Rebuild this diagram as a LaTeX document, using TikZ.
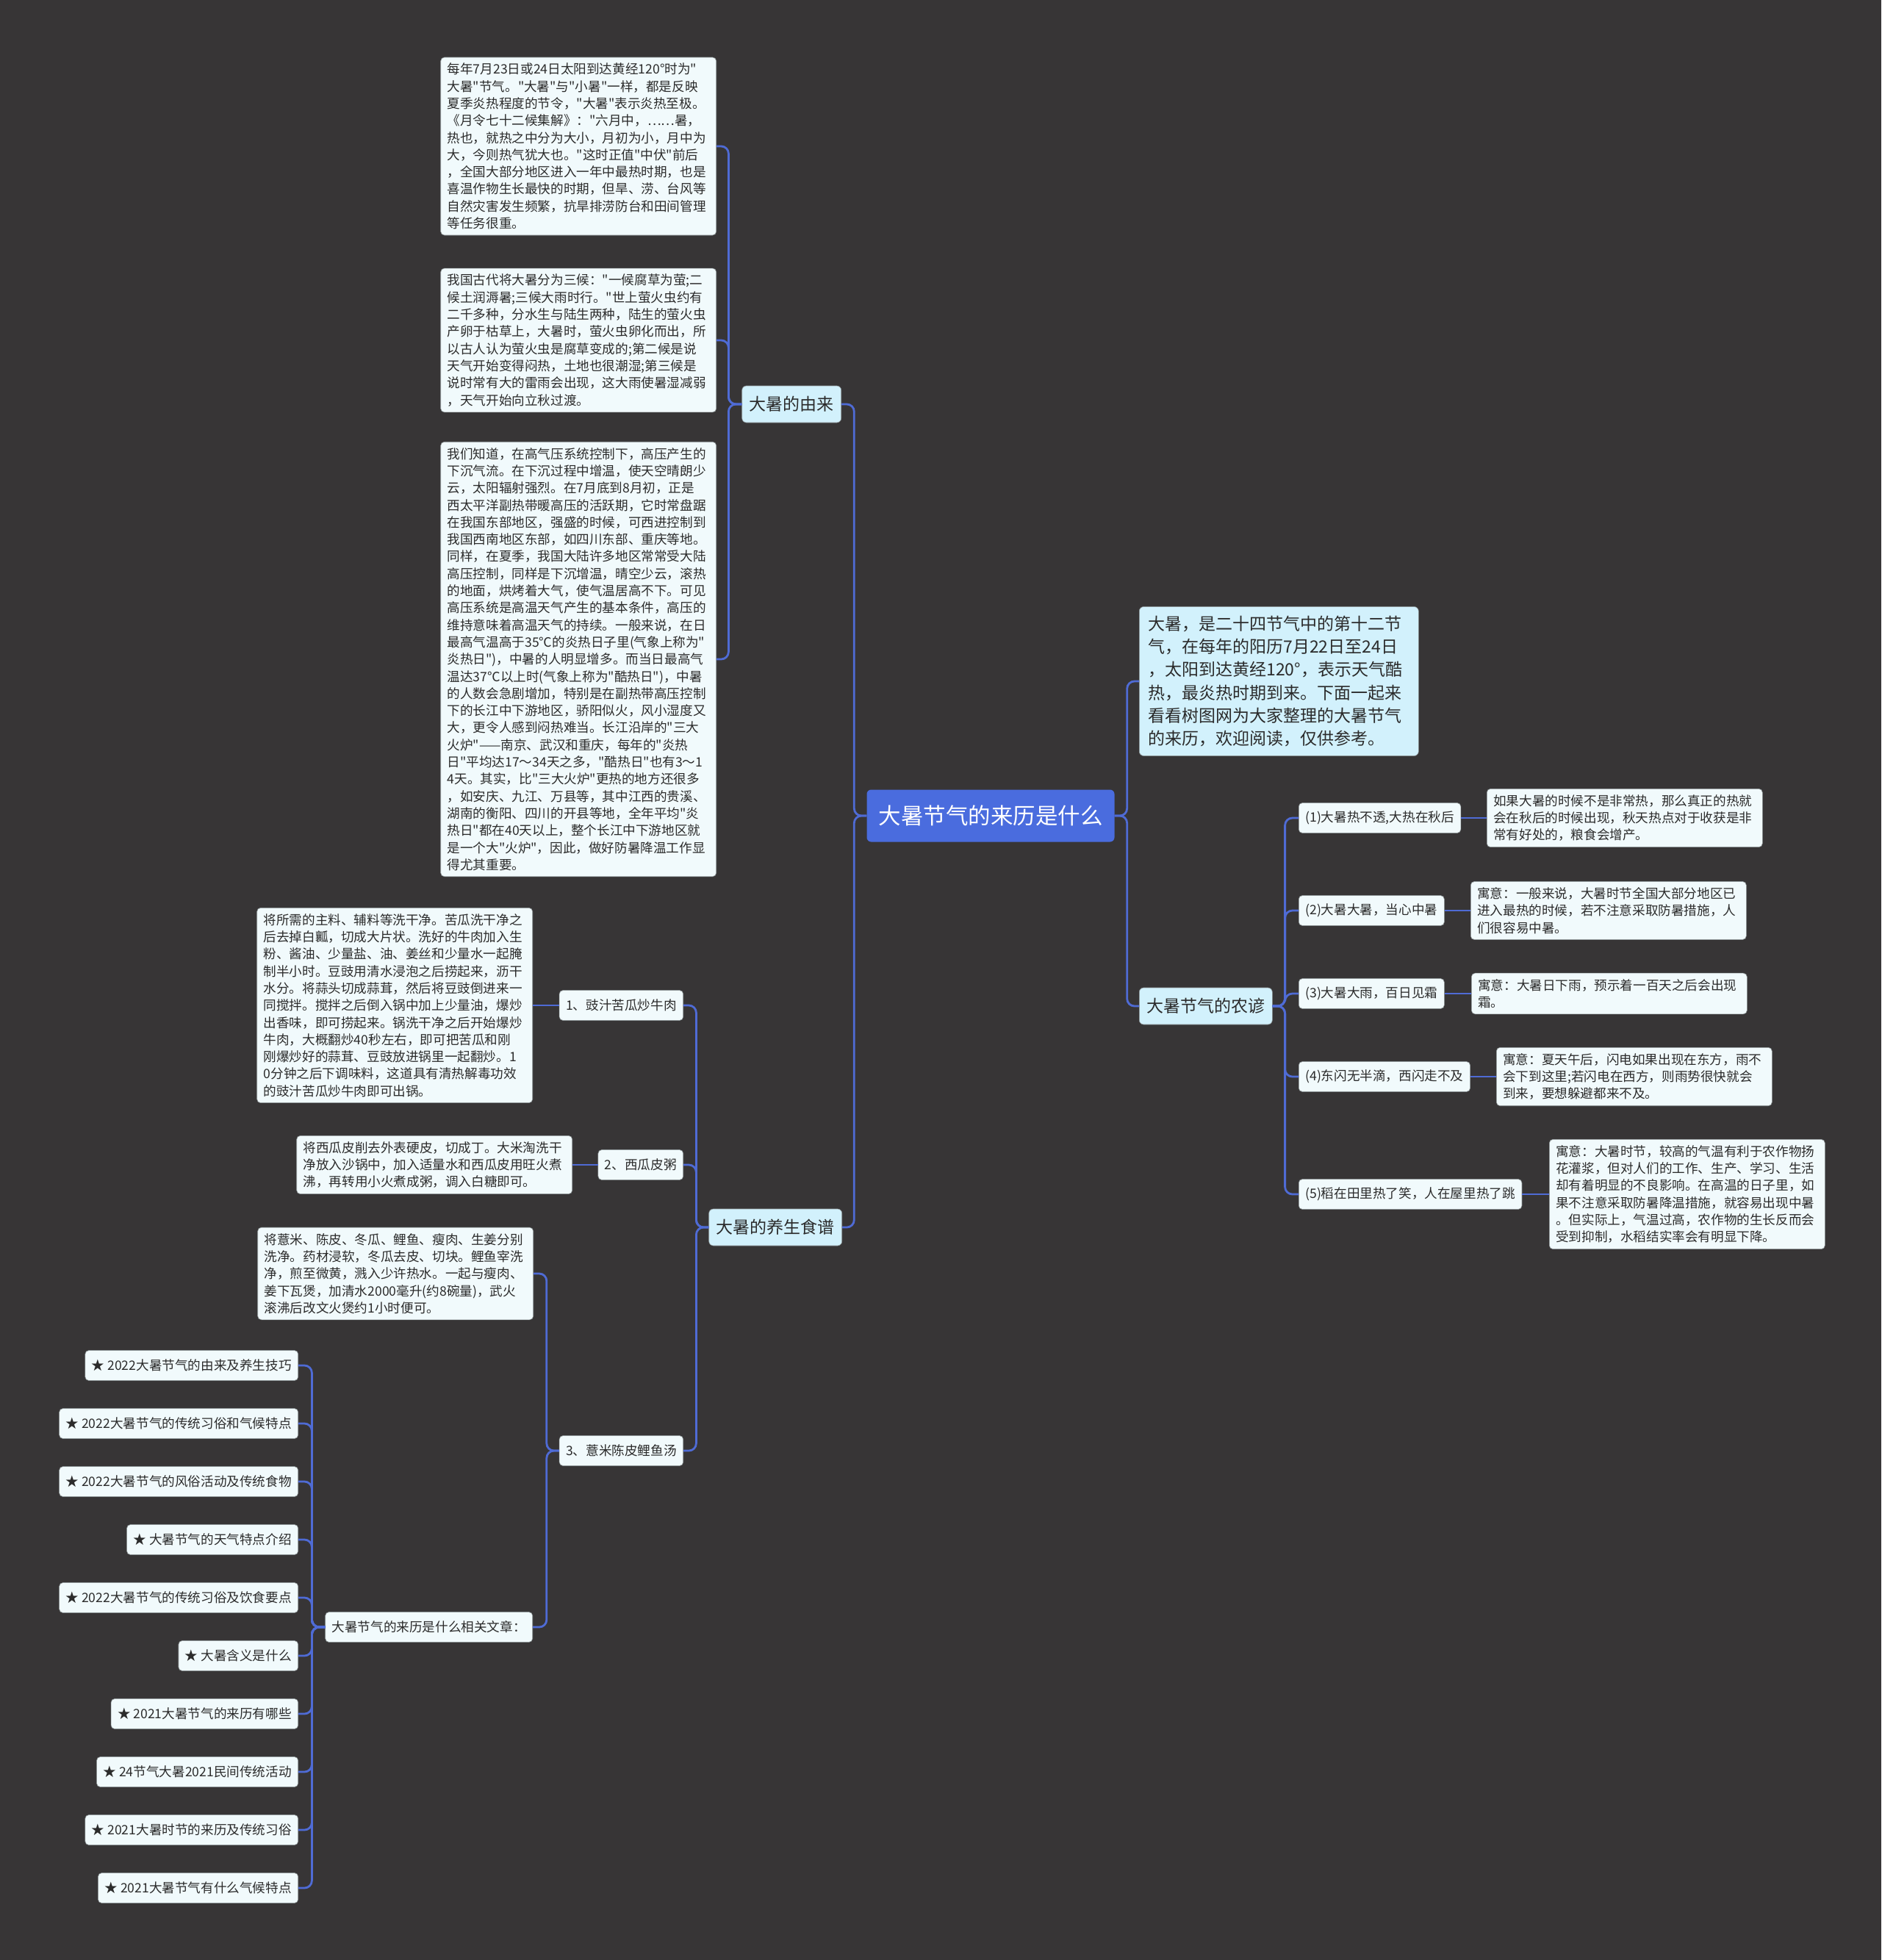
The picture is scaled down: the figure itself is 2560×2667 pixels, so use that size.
\documentclass[tikz,border=0pt]{standalone}
\usepackage{fontspec}
\setmainfont{Noto Sans CJK SC}[Ligatures=TeXOff]
\definecolor{bgc}{HTML}{373536}
\definecolor{connc}{HTML}{4F6BD5}
\definecolor{rootc}{HTML}{4A6CDE}
\definecolor{branchc}{HTML}{D2F1FC}
\definecolor{leafc}{HTML}{F1FAFC}
\definecolor{edgec}{HTML}{8E9698}
\definecolor{txtc}{HTML}{2B2B2B}
\newcommand\myfs[2]{\fontsize{#1}{#2}\selectfont}
\tikzset{
 conn/.style={draw=connc, line width=2.8pt, rounded corners=10pt},
 rootnode/.style={fill=rootc, text=white, rounded corners=6pt, minimum width=337pt, minimum height=71pt, font=\myfs{30.5}{36}},
 branch/.style={fill=branchc, draw=edgec, line width=0.6pt, rounded corners=6pt, minimum height=50pt, inner xsep=10pt, font=\myfs{23}{30}, text=txtc},
 leaf/.style={fill=leafc, draw=edgec, line width=0.6pt, rounded corners=5pt, minimum height=41pt, inner xsep=9pt, font=\myfs{17.6}{23.3}, text=txtc},
 tbox/.style={leaf, minimum height=0pt, text width=357pt, align=left, inner ysep=8pt},
 introbox/.style={branch, minimum height=0pt, text width=356pt, inner xsep=12pt, inner ysep=12pt, align=left, font=\myfs{23}{31.4}},
}
\begin{document}
\begin{tikzpicture}[x=1pt,y=-1pt]
\fill[bgc] (0,0) rectangle (2560,2667);
\useasboundingbox (0,0) rectangle (2560,2667);

% root and main branches
\node[rootnode] (root) at (1348,1110) {大暑节气的来历是什么};
\node[branch, anchor=east] (yl) at (1145,550) {大暑的由来};
\node[branch, anchor=east] (ys) at (1146,1670) {大暑的养生食谱};
\node[introbox, anchor=west] (intro) at (1550,927) {大暑，是二十四节气中的第十二节\\气，在每年的阳历7月22日至24日\\，太阳到达黄经120°，表示天气酷\\热，最炎热时期到来。下面一起来\\看看树图网为大家整理的大暑节气\\的来历，欢迎阅读，仅供参考。};
\node[branch, anchor=west] (ny) at (1550,1369) {大暑节气的农谚};

% origin texts
\node[tbox, anchor=east] (a1) at (975,199) {每年7月23日或24日太阳到达黄经120°时为"\\大暑"节气。"大暑"与"小暑"一样，都是反映\\夏季炎热程度的节令，"大暑"表示炎热至极。\\《月令七十二候集解》："六月中，……暑，\\热也，就热之中分为大小，月初为小，月中为\\大，今则热气犹大也。"这时正值"中伏"前后\\，全国大部分地区进入一年中最热时期，也是\\喜温作物生长最快的时期，但旱、涝、台风等\\自然灾害发生频繁，抗旱排涝防台和田间管理\\等任务很重。};
\node[tbox, anchor=east] (a2) at (975,463) {我国古代将大暑分为三候："一候腐草为萤;二\\候土润溽暑;三候大雨时行。"世上萤火虫约有\\二千多种，分水生与陆生两种，陆生的萤火虫\\产卵于枯草上，大暑时，萤火虫卵化而出，所\\以古人认为萤火虫是腐草变成的;第二候是说\\天气开始变得闷热，土地也很潮湿;第三候是\\说时常有大的雷雨会出现，这大雨使暑湿减弱\\，天气开始向立秋过渡。};
\node[tbox, anchor=east] (a3) at (975,897) {我们知道，在高气压系统控制下，高压产生的\\下沉气流。在下沉过程中增温，使天空晴朗少\\云，太阳辐射强烈。在7月底到8月初，正是\\西太平洋副热带暖高压的活跃期，它时常盘踞\\在我国东部地区，强盛的时候，可西进控制到\\我国西南地区东部，如四川东部、重庆等地。\\同样，在夏季，我国大陆许多地区常常受大陆\\高压控制，同样是下沉增温，晴空少云，滚热\\的地面，烘烤着大气，使气温居高不下。可见\\高压系统是高温天气产生的基本条件，高压的\\维持意味着高温天气的持续。一般来说，在日\\最高气温高于35℃的炎热日子里(气象上称为"\\炎热日")，中暑的人明显增多。而当日最高气\\温达37℃以上时(气象上称为"酷热日")，中暑\\的人数会急剧增加，特别是在副热带高压控制\\下的长江中下游地区，骄阳似火，风小湿度又\\大，更令人感到闷热难当。长江沿岸的"三大\\火炉"——南京、武汉和重庆，每年的"炎热\\日"平均达17～34天之多，"酷热日"也有3～1\\4天。其实，比"三大火炉"更热的地方还很多\\，如安庆、九江、万县等，其中江西的贵溪、\\湖南的衡阳、四川的开县等地，全年平均"炎\\热日"都在40天以上，整个长江中下游地区就\\是一个大"火炉"，因此，做好防暑降温工作显\\得尤其重要。};

% recipes
\node[leaf, anchor=east] (r1) at (930,1368) {1、豉汁苦瓜炒牛肉};
\node[leaf, anchor=east] (r2) at (930,1585) {2、西瓜皮粥};
\node[leaf, anchor=east] (r3) at (930,1974) {3、薏米陈皮鲤鱼汤};
\node[tbox, anchor=east] (t1) at (725,1368) {将所需的主料、辅料等洗干净。苦瓜洗干净之\\后去掉白瓤，切成大片状。洗好的牛肉加入生\\粉、酱油、少量盐、油、姜丝和少量水一起腌\\制半小时。豆豉用清水浸泡之后捞起来，沥干\\水分。将蒜头切成蒜茸，然后将豆豉倒进来一\\同搅拌。搅拌之后倒入锅中加上少量油，爆炒\\出香味，即可捞起来。锅洗干净之后开始爆炒\\牛肉，大概翻炒40秒左右，即可把苦瓜和刚\\刚爆炒好的蒜茸、豆豉放进锅里一起翻炒。1\\0分钟之后下调味料，这道具有清热解毒功效\\的豉汁苦瓜炒牛肉即可出锅。};
\node[tbox, anchor=east] (t2) at (779,1585) {将西瓜皮削去外表硬皮，切成丁。大米淘洗干\\净放入沙锅中，加入适量水和西瓜皮用旺火煮\\沸，再转用小火煮成粥，调入白糖即可。};
\node[tbox, anchor=east] (t3) at (726,1733) {将薏米、陈皮、冬瓜、鲤鱼、瘦肉、生姜分别\\洗净。药材浸软，冬瓜去皮、切块。鲤鱼宰洗\\净，煎至微黄，溅入少许热水。一起与瘦肉、\\姜下瓦煲，加清水2000毫升(约8碗量)，武火\\滚沸后改文火煲约1小时便可。};
\node[leaf, anchor=east] (rel) at (725,2214) {大暑节气的来历是什么相关文章：};

% related articles
\node[leaf, anchor=east] (l0) at (406,1858) {★ 2022大暑节气的由来及养生技巧};
\node[leaf, anchor=east] (l1) at (406,1937) {★ 2022大暑节气的传统习俗和气候特点};
\node[leaf, anchor=east] (l2) at (406,2016) {★ 2022大暑节气的风俗活动及传统食物};
\node[leaf, anchor=east] (l3) at (406,2095) {★ 大暑节气的天气特点介绍};
\node[leaf, anchor=east] (l4) at (406,2174) {★ 2022大暑节气的传统习俗及饮食要点};
\node[leaf, anchor=east] (l5) at (406,2253) {★ 大暑含义是什么};
\node[leaf, anchor=east] (l6) at (406,2332) {★ 2021大暑节气的来历有哪些};
\node[leaf, anchor=east] (l7) at (406,2411) {★ 24节气大暑2021民间传统活动};
\node[leaf, anchor=east] (l8) at (406,2490) {★ 2021大暑时节的来历及传统习俗};
\node[leaf, anchor=east] (l9) at (406,2569) {★ 2021大暑节气有什么气候特点};

% proverbs
\node[leaf, anchor=west] (p1) at (1767,1113) {(1)大暑热不透,大热在秋后};
\node[leaf, anchor=west] (p2) at (1767,1239) {(2)大暑大暑，当心中暑};
\node[leaf, anchor=west] (p3) at (1767,1352) {(3)大暑大雨，百日见霜};
\node[leaf, anchor=west] (p4) at (1767,1465) {(4)东闪无半滴，西闪走不及};
\node[leaf, anchor=west] (p5) at (1767,1625) {(5)稻在田里热了笑，人在屋里热了跳};
\node[tbox, anchor=west] (q1) at (2023,1113) {如果大暑的时候不是非常热，那么真正的热就\\会在秋后的时候出现，秋天热点对于收获是非\\常有好处的，粮食会增产。};
\node[tbox, anchor=west] (q2) at (2001,1239) {寓意：一般来说，大暑时节全国大部分地区已\\进入最热的时候，若不注意采取防暑措施，人\\们很容易中暑。};
\node[tbox, anchor=west] (q3) at (2002,1352) {寓意：大暑日下雨，预示着一百天之后会出现\\霜。};
\node[tbox, anchor=west] (q4) at (2036,1465) {寓意：夏天午后，闪电如果出现在东方，雨不\\会下到这里;若闪电在西方，则雨势很快就会\\到来，要想躲避都来不及。};
\node[tbox, anchor=west] (q5) at (2108,1625) {寓意：大暑时节，较高的气温有利于农作物扬\\花灌浆，但对人们的工作、生产、学习、生活\\却有着明显的不良影响。在高温的日子里，如\\果不注意采取防暑降温措施，就容易出现中暑\\。但实际上，气温过高，农作物的生长反而会\\受到抑制，水稻结实率会有明显下降。};

% connectors
\begin{scope}[on background layer/.try]
\draw[conn] (root.west) -- ++(-17,0) |- (yl.east);
\draw[conn] (root.west) -- ++(-17,0) |- (ys.east);
\draw[conn] (root.east) -- ++(17,0) |- (intro.west);
\draw[conn] (root.east) -- ++(17,0) |- (ny.west);
\foreach \n in {a1,a2,a3} \draw[conn] (yl.west) -- ++(-18,0) |- (\n.east);
\foreach \n in {r1,r2,r3} \draw[conn] (ys.west) -- ++(-17,0) |- (\n.east);
\draw[conn] (r1.west) -- (t1.east);
\draw[conn] (r2.west) -- (t2.east);
\draw[conn] (r3.west) -- ++(-17,0) |- (t3.east);
\draw[conn] (r3.west) -- ++(-17,0) |- (rel.east);
\foreach \i in {0,...,9} \draw[conn] (rel.west) -- ++(-18,0) |- (l\i.east);
\foreach \i in {1,...,5} \draw[conn] (ny.east) -- ++(17,0) |- (p\i.west);
\foreach \i in {1,...,5} \draw[conn] (p\i.east) -- (q\i.west);
\end{scope}
\end{tikzpicture}
\end{document}
